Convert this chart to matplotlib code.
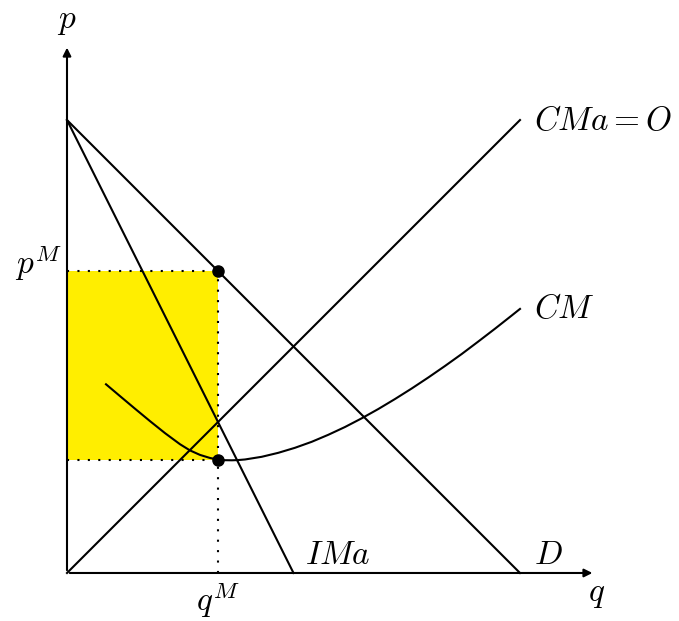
import matplotlib.pyplot as plt

plt.rcParams['mathtext.fontset'] = 'cm'

# rectas (extremos)
demanda_q = [0, 10]
demanda_p = [10, 0]
ima_q = [0, 5]
ima_p = [10, 0]
cma_q = [0, 10]
cma_p = [0, 10]

# curva de coste medio (puntos leídos)
cm_q = [0.861, 1.170, 1.501, 1.832, 2.163, 2.494, 2.715, 2.936, 3.157, 3.340,
        3.488, 3.642, 3.775, 3.929, 4.298, 4.664, 5.033, 5.402, 5.768, 6.137,
        6.506, 6.872, 7.241, 7.609, 7.976, 8.344, 8.713, 9.079, 9.448, 9.817, 10.0]
cm_p = [4.166, 3.905, 3.627, 3.353, 3.088, 2.843, 2.706, 2.607, 2.539, 2.503,
        2.490, 2.488, 2.493, 2.506, 2.565, 2.653, 2.764, 2.896, 3.051, 3.223,
        3.415, 3.620, 3.841, 4.073, 4.316, 4.570, 4.834, 5.110, 5.393, 5.684, 5.830]

# equilibrio del monopolio
qM = 3.33
pM = 6.67
cmeM = 2.50

fig = plt.figure(figsize=(6.79, 6.21), dpi=100)
ax = fig.add_axes([0, 0, 1, 1])
ax.set_xlim(-1.479, 13.51)
ax.set_ylim(-1.06, 12.65)
ax.axis('off')

# beneficio
ax.fill_between([0, qM], cmeM, pM, color='#FFEE00', lw=0, zorder=1)

# ejes con flechas
ax.annotate('', xy=(11.66, 0), xytext=(0, 0),
            arrowprops=dict(arrowstyle='-|>', lw=1.5, color='black', mutation_scale=12))
ax.annotate('', xy=(0, 11.66), xytext=(0, 0),
            arrowprops=dict(arrowstyle='-|>', lw=1.5, color='black', mutation_scale=12))

ax.plot(demanda_q, demanda_p, color='black', lw=1.5)
ax.plot(ima_q, ima_p, color='black', lw=1.5)
ax.plot(cma_q, cma_p, color='black', lw=1.5)
ax.plot(cm_q, cm_p, color='black', lw=1.5, solid_joinstyle='round')

# líneas punteadas
ax.plot([0, qM], [pM, pM], color='black', ls=(0, (1, 4)), lw=1.5)
ax.plot([0, qM], [cmeM, cmeM], color='black', ls=(0, (1, 4)), lw=1.5)
ax.plot([qM, qM], [0, pM], color='black', ls=(0, (1, 4)), lw=1.5)

ax.plot([qM, qM], [pM, cmeM], 'o', color='black', ms=8, zorder=5)

fs = 24
ax.text(0, 12.2, r'$p$', fontsize=fs, ha='center', va='center')
ax.text(11.7, -0.45, r'$q$', fontsize=fs, ha='center', va='center')
ax.text(-0.12, 6.85, r'$p^M$', fontsize=fs, ha='right', va='center')
ax.text(qM, -0.6, r'$q^M$', fontsize=fs, ha='center', va='center')
ax.text(5.25, 0.4, r'$IMa$', fontsize=fs, ha='left', va='center')
ax.text(10.3, 0.4, r'$D$', fontsize=fs, ha='left', va='center')
ax.text(10.3, 10.0, r'$CMa = O$', fontsize=fs, ha='left', va='center')
ax.text(10.3, 5.85, r'$CM$', fontsize=fs, ha='left', va='center')

plt.savefig('out.png', dpi=100)
